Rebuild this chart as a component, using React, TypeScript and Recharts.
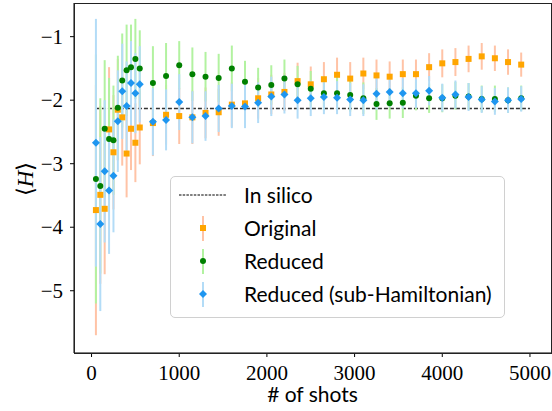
import { ScatterChart, Scatter, XAxis, YAxis, ErrorBar, ReferenceLine } from 'recharts';

const shots = [50, 100, 150, 200, 250, 300, 350, 400, 450, 500, 550, 700, 850, 1000, 1150, 1300, 1450, 1600, 1750, 1900, 2050, 2200, 2350, 2500, 2650, 2800, 2950, 3100, 3250, 3400, 3550, 3700, 3850, 4000, 4150, 4300, 4450, 4600, 4750, 4900];

const original = [-3.73, -3.49, -3.71, -2.46, -2.82, -2.15, -2.27, -2.84, -2.45, -2.67, -2.43, -2.36, -2.23, -2.25, -2.27, -2.2, -2.19, -2.07, -2.05, -1.97, -1.91, -1.87, -1.7, -1.75, -1.67, -1.6, -1.66, -1.58, -1.61, -1.63, -1.59, -1.59, -1.48, -1.42, -1.4, -1.35, -1.31, -1.34, -1.4, -1.44];
const reduced = [-3.24, -3.35, -2.45, -2.61, -2.63, -2.12, -1.69, -1.53, -1.48, -1.35, -1.5, -1.73, -1.62, -1.45, -1.59, -1.63, -1.65, -1.5, -1.71, -1.8, -1.76, -1.66, -1.75, -1.82, -1.89, -1.89, -1.92, -1.97, -2.06, -2.05, -2.04, -1.93, -1.97, -1.97, -1.93, -1.94, -1.98, -1.98, -2.0, -1.97];
const reducedSub = [-2.67, -3.95, -3.12, -3.42, -3.19, -2.33, -1.86, -2.09, -1.73, -1.89, -1.75, -2.34, -2.31, -2.03, -2.27, -2.25, -2.13, -2.09, -2.1, -2.04, -1.94, -1.91, -2.0, -1.97, -1.95, -1.96, -1.99, -2.0, -1.9, -1.87, -1.89, -1.89, -1.85, -1.96, -1.91, -1.95, -1.99, -2.02, -2.0, -1.98];

const errOriginal = [1.97, 1.4, 1.03, 0.98, 0.9, 0.8, 0.76, 0.69, 0.65, 0.62, 0.58, 0.52, 0.47, 0.44, 0.42, 0.4, 0.37, 0.35, 0.34, 0.32, 0.31, 0.3, 0.29, 0.28, 0.27, 0.27, 0.26, 0.25, 0.25, 0.24, 0.23, 0.23, 0.22, 0.22, 0.22, 0.21, 0.21, 0.2, 0.2, 0.19];
const errReduced = [1.96, 1.38, 1.08, 0.96, 0.86, 0.82, 0.74, 0.72, 0.67, 0.63, 0.6, 0.58, 0.52, 0.38, 0.42, 0.39, 0.38, 0.36, 0.33, 0.31, 0.31, 0.3, 0.29, 0.28, 0.27, 0.26, 0.26, 0.25, 0.25, 0.24, 0.24, 0.23, 0.23, 0.22, 0.22, 0.21, 0.21, 0.21, 0.2, 0.2];
const errReducedSub = [1.95, 1.37, 1.12, 1.0, 0.89, 0.8, 0.75, 0.7, 0.66, 0.63, 0.6, 0.53, 0.48, 0.44, 0.41, 0.39, 0.37, 0.35, 0.34, 0.32, 0.31, 0.3, 0.29, 0.28, 0.27, 0.26, 0.26, 0.25, 0.25, 0.24, 0.24, 0.23, 0.23, 0.22, 0.22, 0.22, 0.21, 0.21, 0.2, 0.2];

const inSilico = -2.13;
const xTicks = [0, 1000, 2000, 3000, 4000, 5000];
const yTicks = [-5, -4, -3, -2, -1];

const ORANGE = '#ffa500';
const ORANGE_ERR = '#ffc3a6';
const GREEN = '#008000';
const GREEN_ERR = '#b2f2a0';
const BLUE = '#1e96f0';
const BLUE_ERR = '#b3dcf7';

const rows = (ys: number[], errs: number[]) => shots.map((x, i) => ({ x, y: ys[i], err: errs[i] }));

const SERIF = 'Liberation Serif';
const SANS = 'Lato';

const Square = (p: any) => <rect x={p.cx - 3} y={p.cy - 3} width={6} height={6} fill={ORANGE} />;
const Dot = (p: any) => <circle cx={p.cx} cy={p.cy} r={3} fill={GREEN} />;
const Diamond = (p: any) => (
  <polygon points={`${p.cx},${p.cy - 4} ${p.cx + 4},${p.cy} ${p.cx},${p.cy + 4} ${p.cx - 4},${p.cy}`} fill={BLUE} />
);

const XTick = (p: any) => (
  <text x={p.x} y={p.y + 17} textAnchor="middle" style={{ fontFamily: SERIF }} fontSize={21} fill="#000">
    {p.payload.value}
  </text>
);
const YTick = (p: any) => (
  <text x={p.x} y={p.y + 7} textAnchor="end" style={{ fontFamily: SERIF }} fontSize={21} fill="#000">
    {String(p.payload.value).replace('-', '\u2212')}
  </text>
);

function LegendBox() {
  const item = (err: string, marker: any, label: string, top: number) => (
    <div style={{ position: 'absolute', left: 0, top, height: 33, width: '100%' }}>
      <svg width={60} height={33} style={{ position: 'absolute', left: 0, top: 0 }}>
        <line x1={32} x2={32} y1={4} y2={29} stroke={err} strokeWidth={2} />
        {marker}
      </svg>
      <span style={{ position: 'absolute', left: 73, top: 3, fontSize: 21, fontFamily: SANS, color: '#000', whiteSpace: 'nowrap' }}>{label}</span>
    </div>
  );
  return (
    <div style={{ position: 'absolute', left: 170, top: 176, width: 333, height: 140, border: '1px solid #d0d0d0', borderRadius: 5, background: 'rgba(255,255,255,0.8)' }}>
      <div style={{ position: 'absolute', left: 0, top: 2, height: 33, width: '100%' }}>
        <svg width={60} height={33} style={{ position: 'absolute', left: 0, top: 0 }}>
          <line x1={8} x2={56} y1={16} y2={16} stroke="#000" strokeWidth={1} strokeDasharray="2.5 1.2" />
        </svg>
        <span style={{ position: 'absolute', left: 73, top: 3, fontSize: 21, fontFamily: SANS, color: '#000' }}>In silico</span>
      </div>
      {item(ORANGE_ERR, <rect x={29} y={13} width={6} height={6} fill={ORANGE} />, 'Original', 35)}
      {item(GREEN_ERR, <circle cx={32} cy={16} r={3} fill={GREEN} />, 'Reduced', 68)}
      {item(BLUE_ERR, <polygon points="32,12 36,16 32,20 28,16" fill={BLUE} />, 'Reduced (sub-Hamiltonian)', 101)}
    </div>
  );
}

export default function App() {
  return (
    <div style={{ position: 'absolute', left: 0, top: 0, width: 552, height: 411, background: '#fff' }}>
      <ScatterChart width={552} height={411} margin={{ top: 3, right: 1, left: 0, bottom: 0 }}>
        <XAxis
          type="number"
          dataKey="x"
          domain={[-200, 5240]}
          ticks={xTicks}
          height={58}
          allowDataOverflow
          tickSize={4}
          tickMargin={6}
          stroke="#000"
          tick={XTick}
          label={{ value: '# of shots', position: 'insideBottom', offset: 9, fill: '#000', fontSize: 21, fontFamily: SANS }}
        />
        <YAxis
          type="number"
          dataKey="y"
          domain={[-5.98, -0.47]}
          ticks={yTicks}
          width={74}
          allowDataOverflow
          tickSize={4}
          tickMargin={7}
          stroke="#000"
          tick={YTick}
        />
        <ReferenceLine
          segment={[{ x: 50, y: inSilico }, { x: 5000, y: inSilico }]}
          stroke="#333"
          strokeWidth={1.5}
          strokeDasharray="4 2"
        />
        <Scatter name="Original" data={rows(original, errOriginal)} shape={Square} isAnimationActive={false}>
          <ErrorBar dataKey="err" direction="y" width={0} stroke={ORANGE_ERR} strokeWidth={2} isAnimationActive={false} />
        </Scatter>
        <Scatter name="Reduced" data={rows(reduced, errReduced)} shape={Dot} isAnimationActive={false}>
          <ErrorBar dataKey="err" direction="y" width={0} stroke={GREEN_ERR} strokeWidth={2} isAnimationActive={false} />
        </Scatter>
        <Scatter name="Reduced (sub-Hamiltonian)" data={rows(reducedSub, errReducedSub)} shape={Diamond} isAnimationActive={false}>
          <ErrorBar dataKey="err" direction="y" width={0} stroke={BLUE_ERR} strokeWidth={2} isAnimationActive={false} />
        </Scatter>
      </ScatterChart>
      <div style={{ position: 'absolute', left: 74, top: 3, width: 476, height: 349, border: '1px solid #222', pointerEvents: 'none' }} />
      <div style={{ position: 'absolute', left: 8, top: 162, width: 34, height: 34, display: 'flex', alignItems: 'center', justifyContent: 'center', transform: 'rotate(-90deg)', fontFamily: SERIF, fontSize: 23, color: '#000' }}>
        <span>⟨<i>H</i>⟩</span>
      </div>
      <LegendBox />
    </div>
  );
}
